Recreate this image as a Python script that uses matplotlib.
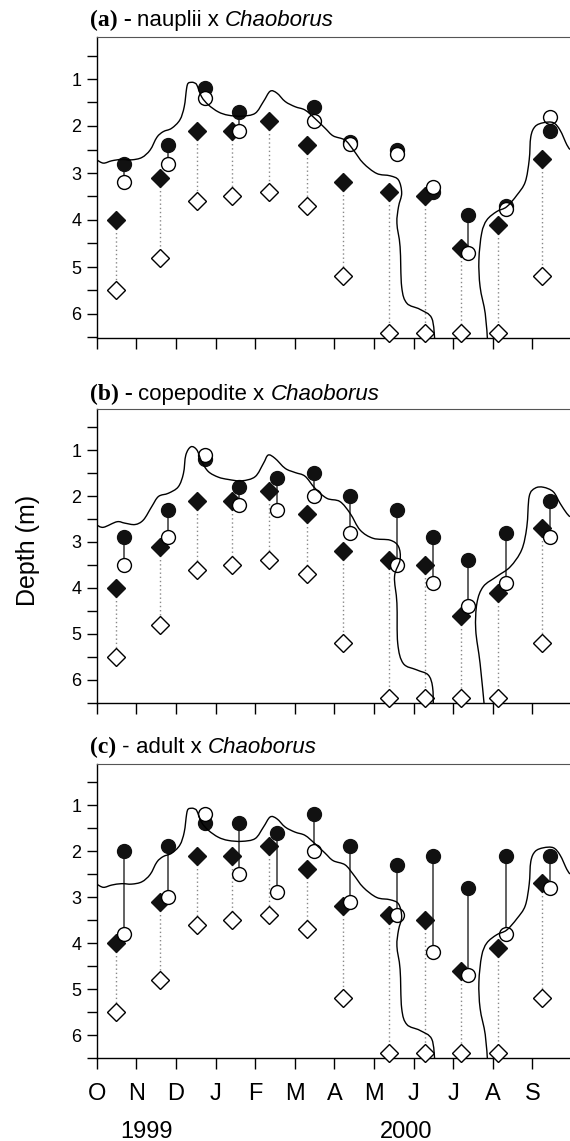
import numpy as np
import matplotlib
matplotlib.use("Agg")
import matplotlib.pyplot as plt
from matplotlib.ticker import MultipleLocator, NullFormatter
from matplotlib.transforms import IdentityTransform
from matplotlib.path import Path
from matplotlib.patches import PathPatch

plt.rcParams['font.family'] = ['Liberation Sans', 'DejaVu Sans']

# sampling dates, months since 1 Oct 1999
dates = [0.49, 1.61, 2.54, 3.41, 4.36, 5.30, 6.21, 7.39, 8.29, 9.19, 10.14, 11.25]
prey_shift = 0.19  # prey circles sit a little right of the Chaoborus diamonds

# Chaoborus depth (same in all panels)
chaob_filled = [4.0, 3.1, 2.1, 2.1, 1.9, 2.4, 3.2, 3.4, 3.5, 4.6, 4.1, 2.7]
chaob_open = [5.5, 4.8, 3.6, 3.5, 3.4, 3.7, 5.2, 6.4, 6.4, 6.4, 6.4, 5.2]

# prey depths
naup_filled = [2.8, 2.4, 1.2, 1.7, np.nan, 1.6, 2.33, 2.52, 3.4, 3.9, 3.7, 2.1]
naup_open = [3.2, 2.8, 1.4, 2.1, np.nan, 1.9, 2.38, 2.6, 3.3, 4.7, 3.77, 1.8]
cope_filled = [2.9, 2.3, 1.2, 1.8, 1.6, 1.5, 2.0, 2.3, 2.9, 3.4, 2.8, 2.1]
cope_open = [3.5, 2.9, 1.1, 2.2, 2.3, 2.0, 2.8, 3.5, 3.9, 4.4, 3.9, 2.9]
adult_filled = [2.0, 1.9, 1.4, 1.4, 1.6, 1.2, 1.9, 2.3, 2.1, 2.8, 2.1, 2.1]
adult_open = [3.8, 3.0, 1.2, 2.5, 2.9, 2.0, 3.1, 3.4, 4.2, 4.7, 3.8, 2.8]

# traced depth curve (two branches), panels a and c
curve_a1_x = [0, 0.17, 0.38, 0.63, 0.88, 1.14, 1.35, 1.52, 1.68, 1.89, 2.10, 2.21, 2.27, 2.31,
              2.40, 2.46, 2.53, 2.65, 2.82, 3.07, 3.32, 3.66, 4.0, 4.21, 4.38, 4.55, 4.76, 5.01,
              5.26, 5.51, 5.77, 5.97, 6.27, 6.48, 6.73, 7.07, 7.41, 7.62, 7.70, 7.62, 7.58, 7.66,
              7.70, 7.83, 8.16, 8.46, 8.54]
curve_a1_y = [2.72, 2.79, 2.74, 2.71, 2.72, 2.67, 2.51, 2.24, 2.12, 2.05, 1.87, 1.59, 1.2, 1.09,
              1.07, 1.08, 1.13, 1.38, 1.55, 1.70, 1.77, 1.79, 1.73, 1.48, 1.26, 1.30, 1.48, 1.59,
              1.66, 1.84, 2.05, 2.21, 2.30, 2.51, 2.79, 3.01, 3.06, 3.15, 3.43, 3.72, 4.07, 4.57,
              5.42, 5.77, 5.90, 6.09, 6.6]
curve_a2_x = [9.87, 9.81, 9.68, 9.65, 9.72, 9.85, 10.10, 10.35, 10.61, 10.82, 10.92, 10.96,
              11.07, 11.28, 11.53, 11.70, 11.87, 11.95]
curve_a2_y = [6.6, 5.99, 5.42, 4.85, 4.28, 4.0, 3.82, 3.72, 3.47, 3.19, 2.72, 2.23,
              2.01, 1.93, 1.93, 2.09, 2.40, 2.50]

# panel b curve
curve_b1_x = [0, 0.17, 0.51, 0.71, 0.97, 1.18, 1.39, 1.56, 1.81, 2.06, 2.19, 2.25, 2.38, 2.53,
              2.65, 2.82, 3.07, 3.32, 3.66, 4.0, 4.21, 4.33, 4.50, 4.76, 5.01, 5.26, 5.51, 5.81,
              6.14, 6.40, 6.65, 6.98, 7.41, 7.62, 7.66, 7.52, 7.58, 7.60, 7.74, 8.08, 8.37, 8.48,
              8.50]
curve_b1_y = [2.63, 2.68, 2.56, 2.59, 2.62, 2.52, 2.23, 2.01, 1.94, 1.80, 1.51, 1.11, 0.93, 1.0,
              1.25, 1.47, 1.59, 1.64, 1.67, 1.58, 1.29, 1.11, 1.18, 1.40, 1.49, 1.57, 1.83, 2.05,
              2.12, 2.38, 2.74, 2.92, 2.96, 3.10, 3.39, 3.75, 4.33, 5.20, 5.64, 5.78, 5.89, 6.15,
              6.6]
curve_b2_x = [9.79, 9.68, 9.57, 9.60, 9.76, 10.10, 10.44, 10.73, 10.86, 10.92, 11.07, 11.28,
              11.53, 11.70, 11.87, 11.95]
curve_b2_y = [6.6, 5.64, 4.91, 4.33, 3.97, 3.75, 3.54, 3.17, 2.67, 2.01, 1.83, 1.81,
              1.91, 2.16, 2.38, 2.45]

month_labels = ['O', 'N', 'D', 'J', 'F', 'M', 'A', 'M', 'J', 'J', 'A', 'S']

panels = [
    ("(a)", True, "nauplii x ", naup_filled, naup_open, (curve_a1_x, curve_a1_y, curve_a2_x, curve_a2_y)),
    ("(b)", True, "copepodite x ", cope_filled, cope_open, (curve_b1_x, curve_b1_y, curve_b2_x, curve_b2_y)),
    ("(c)", False, "adult x ", adult_filled, adult_open, (curve_a1_x, curve_a1_y, curve_a2_x, curve_a2_y)),
]

W, H = 570, 1141
fig = plt.figure(figsize=(W / 100, H / 100), dpi=100)

# axes boxes in pixels: top, bottom
boxes = [(36.7, 337.5), (408.6, 703.0), (763.6, 1058.0)]
title_base = [26, 400, 753]
left_px = 96.7

renderer = fig.canvas.get_renderer()


def rich_text(x, y, parts):
    for s, kw in parts:
        t = fig.text(x, y, s, transform=IdentityTransform(), va='baseline', ha='left', **kw)
        x = t.get_window_extent(renderer).x1


def smooth_line(ax, xs, ys, **kw):
    # catmull-rom through the traced points, drawn as bezier segments
    p = np.column_stack([xs, ys])
    p = np.vstack([p[0], p, p[-1]])
    verts = [p[1]]
    codes = [Path.MOVETO]
    for k in range(1, len(p) - 2):
        c1 = p[k] + (p[k + 1] - p[k - 1]) / 6
        c2 = p[k + 1] - (p[k + 2] - p[k]) / 6
        verts += [c1, c2, p[k + 1]]
        codes += [Path.CURVE4] * 3
    ax.add_patch(PathPatch(Path(verts, codes), fill=False, **kw))


for i, (tag, bold_dash, prey, p_fill, p_open, curve) in enumerate(panels):
    top, bot = boxes[i]
    ax = fig.add_axes([left_px / W, 1 - bot / H, 1 - left_px / W, (bot - top) / H])
    ax.set_xlim(0, 11.95)
    ax.set_ylim(6.5, 0.1)

    xd = np.array(dates)
    xc = xd + prey_shift

    # Chaoborus
    ax.vlines(xd, chaob_filled, chaob_open, colors='#888888', linestyles=(0, (1, 2)), lw=1, zorder=2)
    ax.plot(xd, chaob_open, 'D', ms=9.5, mfc='white', mec='black', mew=1, clip_on=False, zorder=4)
    ax.plot(xd, chaob_filled, 'D', ms=9.5, mfc='#111111', mec='#111111', mew=1, clip_on=False, zorder=4)

    # prey
    ax.vlines(xc, p_fill, p_open, colors='#555555', lw=1.3, zorder=3)
    ax.plot(xc, p_fill, 'o', ms=10, mfc='#111111', mec='#111111', zorder=5)
    ax.plot(xc, p_open, 'o', ms=10, mfc='white', mec='black', mew=1, zorder=6)

    cx1, cy1, cx2, cy2 = curve
    smooth_line(ax, cx1, cy1, ec='black', lw=1, zorder=7)
    smooth_line(ax, cx2, cy2, ec='black', lw=1, zorder=7)

    for s in ['left', 'bottom']:
        ax.spines[s].set_linewidth(1)
    ax.spines['top'].set_color('#555555')
    ax.spines['right'].set_visible(False)

    ax.yaxis.set_major_locator(MultipleLocator(1))
    ax.yaxis.set_minor_locator(MultipleLocator(0.5))
    ax.tick_params(axis='y', which='both', direction='out', length=7, width=1, labelsize=13, pad=4)
    ax.set_xticks(range(12))
    ax.tick_params(axis='x', direction='out', length=8, width=1, labelsize=17, pad=10)
    if i == 2:
        ax.set_xticklabels(month_labels)
    else:
        ax.xaxis.set_major_formatter(NullFormatter())

    serif_bold = dict(fontfamily='Liberation Serif', fontweight='bold', fontsize=17)
    dash_kw = serif_bold if bold_dash else dict(fontfamily='Liberation Sans', fontsize=16)
    rich_text(90, H - title_base[i], [
        (tag, serif_bold),
        (' - ', dash_kw),
        (prey, dict(fontfamily='Liberation Sans', fontsize=16)),
        ('Chaoborus', dict(fontfamily='Liberation Sans', fontstyle='italic', fontsize=16)),
    ])

fig.text(28 / W, 1 - 550 / H, 'Depth (m)', rotation=90, ha='center', va='center', fontsize=18)
fig.text(147 / W, 1 - 1132 / H, '1999', ha='center', va='center', fontsize=17)
fig.text(406 / W, 1 - 1132 / H, '2000', ha='center', va='center', fontsize=17)

fig.savefig('out.png', dpi=100)
